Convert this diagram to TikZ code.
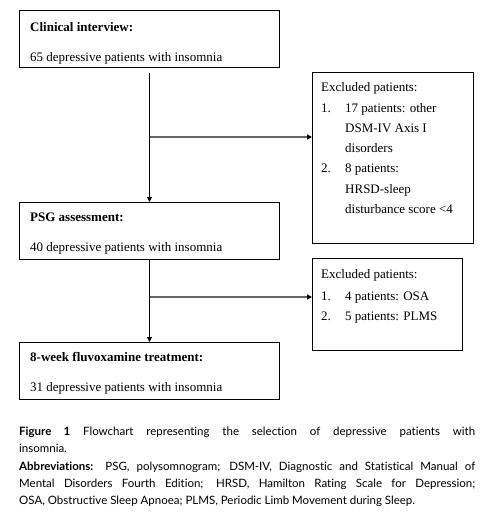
\documentclass[tikz,border=0pt]{standalone}
\usepackage{fontspec}
\setmainfont{Liberation Serif}
\newfontfamily\capfont[Ligatures={NoCommon}]{Lato}
\usetikzlibrary{arrows.meta}
\begin{document}
\begin{tikzpicture}[x=1pt,y=-1pt,
  boxstyle/.style={draw=black,line width=1pt,anchor=north west,inner sep=0pt},
  txt/.style={anchor=base west,inner sep=0pt,font=\fontsize{13}{15}\selectfont},
  vline/.style={draw=black,line width=1.1pt,-{Triangle[length=5pt,width=5pt]}},
  hline/.style={draw=black!60,line width=2pt,-{Triangle[length=5pt,width=5pt,fill=black,color=black]}},
  captxt/.style={anchor=base west,inner sep=0pt,font=\capfont\fontsize{11.5}{14}\selectfont}]
\useasboundingbox[fill=white] (0,0) rectangle (494,520);
% main boxes
\node[boxstyle,minimum width=260pt,minimum height=57pt] (b1) at (19,10) {};
\node[boxstyle,minimum width=260pt,minimum height=57pt] (b2) at (19,202) {};
\node[boxstyle,minimum width=260pt,minimum height=57pt] (b3) at (19,342) {};
% excluded boxes
\node[boxstyle,minimum width=161pt,minimum height=171pt] (e1) at (312,72) {};
\node[boxstyle,minimum width=150pt,minimum height=92pt] (e2) at (312,258) {};
% texts main
\node[txt] (t1a) at (30,31) {\textbf{Clinical interview:}};
\node[txt] (t1b) at (30,61) {65 depressive patients with insomnia};
\node[txt] (t2a) at (30,221) {\textbf{PSG assessment:}};
\node[txt] (t2b) at (30,251) {40 depressive patients with insomnia};
\node[txt] (t3a) at (30,361) {\textbf{8-week fluvoxamine treatment:}};
\node[txt] (t3b) at (30,391) {31 depressive patients with insomnia};
% texts excluded 1
\node[txt] (e1h) at (321,91) {Excluded patients:};
\node[txt] (e1n1) at (321,112) {1.};
\node[txt] (e1a) at (345,112) {17 patients: other};
\node[txt] (e1b) at (345,132) {DSM-IV Axis I};
\node[txt] (e1c) at (345,152) {disorders};
\node[txt] (e1n2) at (321,172) {2.};
\node[txt] (e1d) at (345,172) {8 patients:};
\node[txt] (e1e) at (345,193) {HRSD-sleep};
\node[txt] (e1f) at (345,213) {disturbance score <4};
% texts excluded 2
\node[txt] (e2h) at (321,278) {Excluded patients:};
\node[txt] (e2n1) at (321,300) {1.};
\node[txt] (e2a) at (345,300) {4 patients: OSA};
\node[txt] (e2n2) at (321,320) {2.};
\node[txt] (e2b) at (345,320) {5 patients: PLMS};
% connectors
\coordinate (j1) at (b1.south |- 0,137);
\coordinate (j2) at (b2.south |- 0,297);
\draw[vline,shorten <=5pt] (b1.south) -- (b2.north);
\draw[vline] (b2.south) -- (b3.north);
\draw[hline] (j1) -- (j1 -| e1.west);
\draw[hline] (j2) -- (j2 -| e2.west);
% caption
\node[captxt] (c1) at (19,435) {\makebox[456pt][s]{\textbf{Figure 1} Flowchart representing the selection of depressive patients with}};
\node[captxt] (c2) at (19,452) {insomnia.};
\node[captxt] (c3) at (19,470) {\makebox[456pt][s]{\textbf{Abbreviations:} PSG, polysomnogram; DSM-IV, Diagnostic and Statistical Manual of}};
\node[captxt] (c4) at (19,487) {\makebox[456pt][s]{Mental Disorders Fourth Edition; HRSD, Hamilton Rating Scale for Depression;}};
\node[captxt] (c5) at (19,504) {OSA, Obstructive Sleep Apnoea; PLMS, Periodic Limb Movement during Sleep.};
\end{tikzpicture}
\end{document}
